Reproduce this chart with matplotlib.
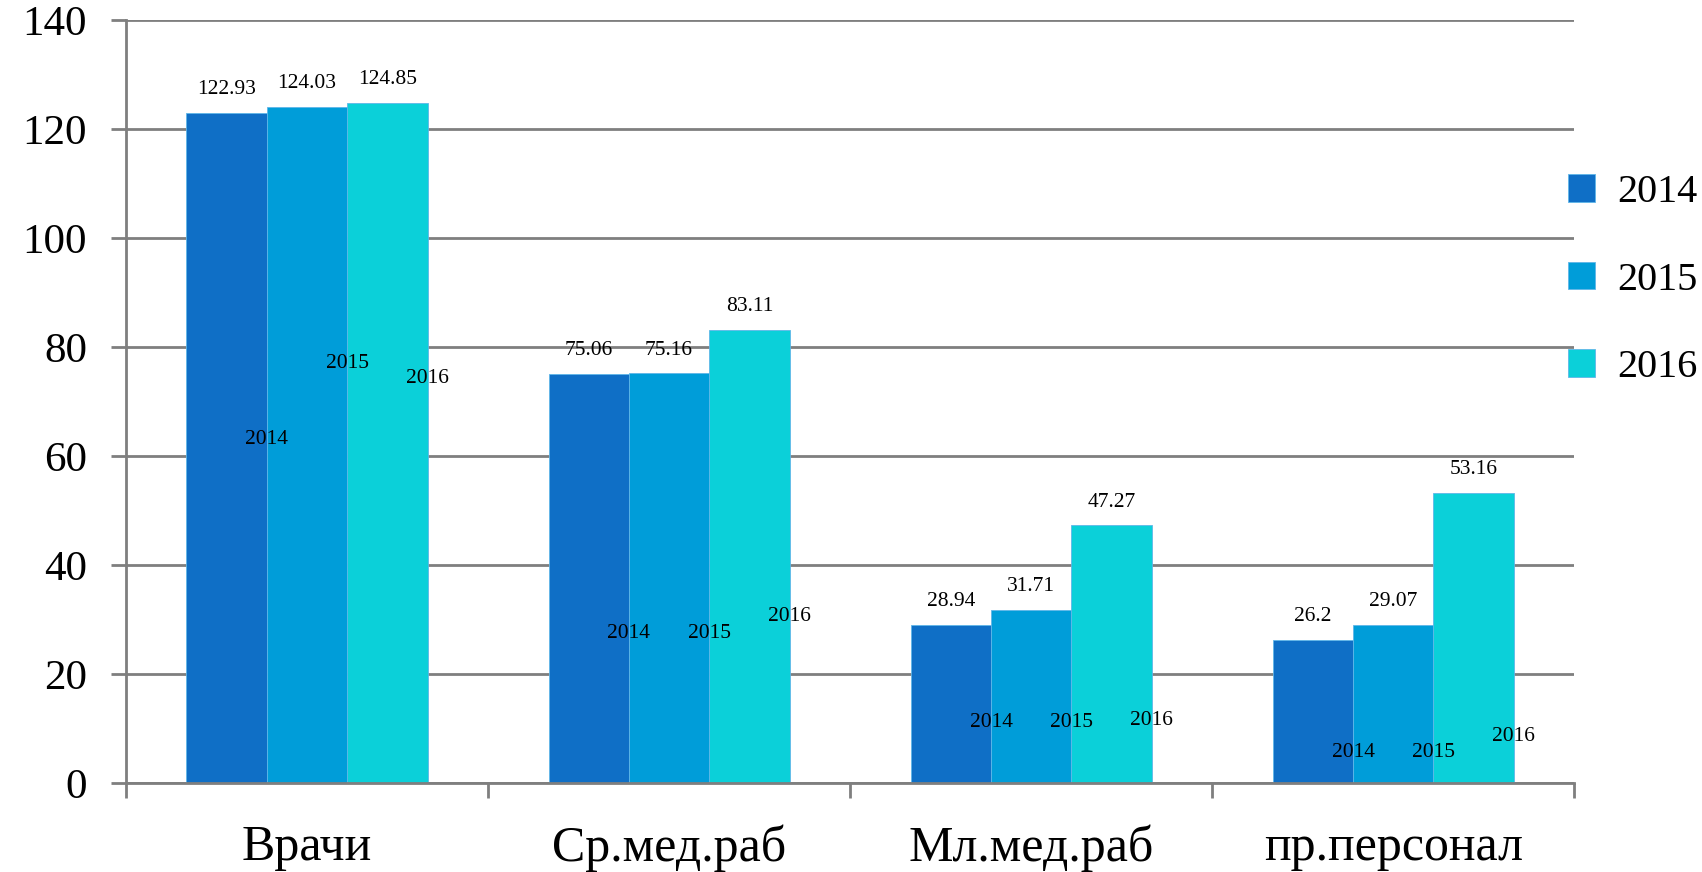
import numpy as np
import matplotlib.pyplot as plt

categories = ["Врачи", "Ср.мед.раб", "Мл.мед.раб", "пр.персонал"]
years = ["2014", "2015", "2016"]
values_2014 = [122.93, 75.06, 28.94, 26.2]
values_2015 = [124.03, 75.16, 31.71, 29.07]
values_2016 = [124.85, 83.11, 47.27, 53.16]
# heights at which the stray series-name labels sit inside the bars
name_y_2014 = [63.1, 27.5, 11.2, 5.6]
name_y_2015 = [76.9, 27.5, 11.2, 5.6]
name_y_2016 = [74.3, 30.5, 11.4, 8.6]

colors = ["#0F6FC6", "#009DD9", "#0BD0D9"]
grid_color = "#7f7f7f"
font = "Liberation Serif"
plt.rcParams["font.family"] = [font, "DejaVu Serif"]

fig = plt.figure(figsize=(17.02, 8.72), dpi=100)
ax = fig.add_axes([0.074, 0.102, 0.851, 0.875])

x = np.arange(len(categories))
width = 0.222
series = [values_2014, values_2015, values_2016]
name_ys = [name_y_2014, name_y_2015, name_y_2016]

for i, (year, vals, color, ny) in enumerate(zip(years, series, colors, name_ys)):
    pos = x + (i - 1) * width
    bars = ax.bar(pos, vals, width, color=color, label=year,
                  edgecolor="#5fb6e8", linewidth=0.6, zorder=2)
    for bar, v in zip(bars, vals):
        ax.annotate(f"{v:g}", (bar.get_x() + bar.get_width() / 2, v),
                    xytext=(0, 10), textcoords="offset points",
                    ha="center", va="bottom", fontsize=15.5, color="black")
    for p, y in zip(pos, ny):
        ax.text(p + width / 2, y, year, ha="center", va="center",
                fontsize=15.5, color="black", zorder=3)

ax.set_xlim(-0.5, len(categories) - 0.5)
ax.set_ylim(0, 140)
ax.set_yticks(np.arange(0, 141, 20))
ax.yaxis.grid(True, color=grid_color, linewidth=2)
ax.set_axisbelow(True)

ax.set_xticks(x)
ax.set_xticklabels(categories, fontsize=36)
ax.set_xticks(np.arange(-0.5, len(categories)), minor=True)
ax.tick_params(axis="x", which="major", length=0, pad=30)
ax.tick_params(axis="x", which="minor", length=11, width=2, color=grid_color,
               direction="out")
ax.tick_params(axis="y", length=11, width=2, color=grid_color, pad=17,
               labelsize=31)

for side in ["top", "right"]:
    ax.spines[side].set_visible(False)
for side in ["left", "bottom"]:
    ax.spines[side].set_color(grid_color)
    ax.spines[side].set_linewidth(2)

ax.legend(loc="center left", bbox_to_anchor=(1568 / 1702, 1 - 280 / 872),
          bbox_transform=fig.transFigure, frameon=False, fontsize=29,
          handlelength=0.68, handleheight=0.68, handletextpad=0.55,
          labelspacing=1.25, borderpad=0, borderaxespad=0)

fig.savefig("out.png", dpi=100)
